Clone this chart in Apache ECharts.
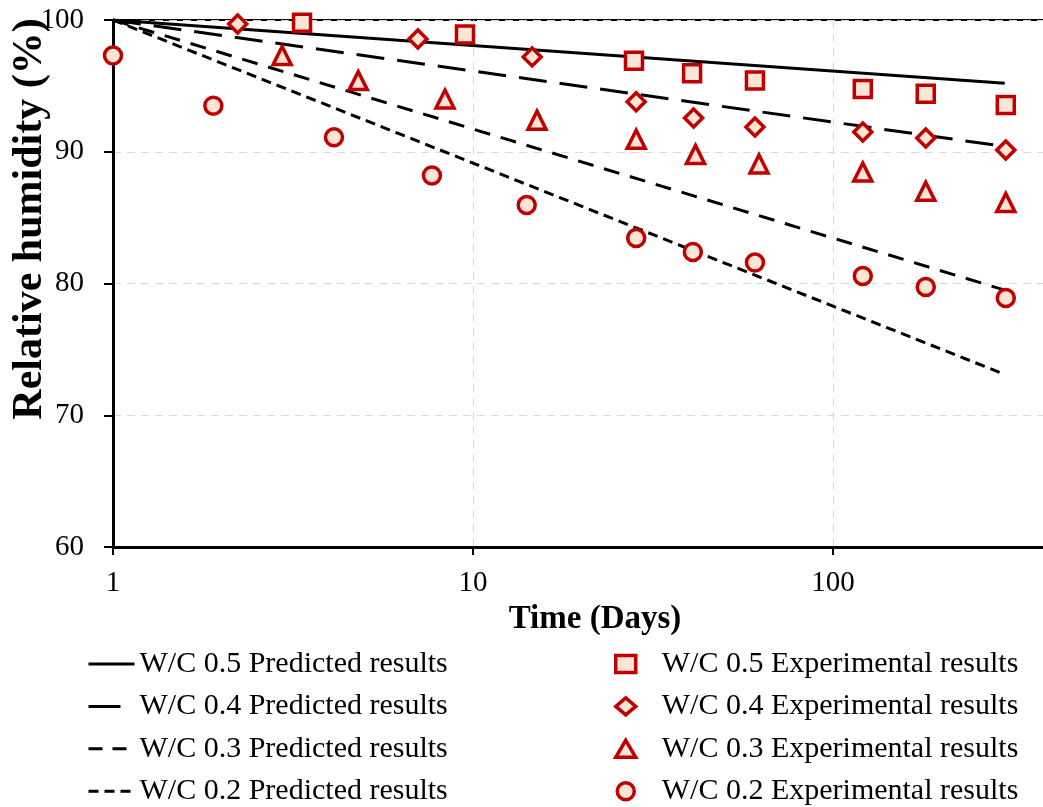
<!DOCTYPE html>
<html>
<head>
<meta charset="utf-8">
<script src="https://cdn.jsdelivr.net/npm/echarts@6/dist/echarts.min.js"></script>
<style>
  html, body { margin: 0; padding: 0; background: #fff; }
  #chart { width: 1043px; height: 807px; }
</style>
</head>
<body>
<div id="chart"></div>
<script>
// predicted lines (straight on log axis), from day 1 to day 300
const predDays = [1, 300];
const pred05 = [100, 95.2];
const pred04 = [100, 90.4];
const pred03 = [100, 79.5];
const pred02 = [100, 73.1];

// experimental points
const exp05Days = [3.35, 9.5, 28, 40.6, 60.7, 121, 181, 302];
const exp05 = [99.8, 98.9, 96.9, 95.95, 95.4, 94.76, 94.4, 93.55];

const exp04Days = [2.22, 7.03, 14.6, 28.4, 41, 60.7, 121, 181, 302];
const exp04 = [99.7, 98.56, 97.2, 93.8, 92.56, 91.88, 91.5, 91.04, 90.13];

const exp03Days = [2.95, 4.8, 8.36, 15.06, 28.4, 41.5, 62.3, 121, 181, 302];
const exp03 = [97.3, 95.4, 94.0, 92.4, 90.95, 89.8, 89.07, 88.46, 87.0, 86.15];

const exp02Days = [1, 1.9, 4.11, 7.69, 14.1, 28.4, 40.8, 60.7, 121, 181, 302];
const exp02 = [97.3, 93.5, 91.1, 88.2, 85.96, 83.45, 82.4, 81.6, 80.57, 79.73, 78.9];

const yTicks = [60, 70, 80, 90, 100];

const FONT = "Liberation Serif";
const RED = "#C00000";
const PEACH = "#FBE5D6";

function pairs(xs, ys) {
  return xs.map((x, i) => [x, ys[i]]);
}

function predLine(name, ys, dash) {
  return {
    name: name,
    type: "line",
    data: pairs(predDays, ys),
    symbol: "none",
    silent: true,
    lineStyle: { color: "#000", width: 3, type: dash },
    itemStyle: { color: "#000" },
    z: 2,
  };
}

function expPoints(name, xs, ys, symbol, size) {
  return {
    name: name,
    type: "scatter",
    data: pairs(xs, ys),
    symbol: symbol,
    symbolSize: size,
    silent: true,
    itemStyle: { color: PEACH, borderColor: RED, borderWidth: 3.5, opacity: 1 },
    z: 3,
  };
}

const lineNames = [
  "W/C 0.5 Predicted results",
  "W/C 0.4 Predicted results",
  "W/C 0.3 Predicted results",
  "W/C 0.2 Predicted results",
];
const expNames = [
  "W/C 0.5 Experimental results",
  "W/C 0.4 Experimental results",
  "W/C 0.3 Experimental results",
  "W/C 0.2 Experimental results",
];

const chart = echarts.init(document.getElementById("chart"), null, { renderer: "canvas" });

chart.setOption({
  animation: false,
  backgroundColor: "#fff",
  textStyle: { fontFamily: FONT, color: "#000" },
  grid: {
    left: 113,
    top: 20,
    width: 1080,
    height: 527,
    show: true,
    borderColor: "#000",
    borderWidth: 2,
    containLabel: false,
    outerBoundsMode: "none",
  },
  xAxis: {
    type: "log",
    logBase: 10,
    min: 1,
    max: 1000,
    axisLine: { lineStyle: { color: "#000", width: 3 } },
    axisTick: { show: true, length: 8, lineStyle: { color: "#000", width: 2 } },
    minorTick: { show: false },
    axisLabel: { fontFamily: FONT, fontSize: 29, color: "#000", margin: 22 },
    splitLine: { show: true, lineStyle: { color: "#d9d9d9", width: 1, type: [8, 6] } },
  },
  yAxis: {
    type: "value",
    min: yTicks[0],
    max: yTicks[yTicks.length - 1],
    interval: 10,
    axisLine: { show: true, lineStyle: { color: "#000", width: 3 } },
    axisTick: { show: true, length: 9, lineStyle: { color: "#000", width: 2 } },
    axisLabel: { fontFamily: FONT, fontSize: 29, color: "#000", margin: 29 },
    splitLine: { show: true, lineStyle: { color: "#d9d9d9", width: 1, type: [8, 6] } },
  },
  graphic: [
    {
      type: "text",
      x: 30,
      y: 219,
      rotation: Math.PI / 2,
      style: {
        text: "Relative humidity (%)",
        fontFamily: FONT,
        fontWeight: "bold",
        fontSize: 42,
        fill: "#000",
        align: "center",
        verticalAlign: "middle",
      },
    },
    {
      type: "text",
      x: 595,
      y: 619,
      style: {
        text: "Time (Days)",
        fontFamily: FONT,
        fontWeight: "bold",
        fontSize: 33,
        fill: "#000",
        align: "center",
        verticalAlign: "middle",
      },
    },
  ],
  legend: [
    {
      data: [
        { name: lineNames[0] },
        { name: lineNames[1], lineStyle: { type: [32, 40] } },
        { name: lineNames[2], lineStyle: { type: [14, 10] } },
        { name: lineNames[3], lineStyle: { type: [10, 6] } },
      ],
      orient: "vertical",
      left: 87,
      top: 649,
      padding: 0,
      itemWidth: 46,
      itemHeight: 20,
      itemGap: 12.4,
      selectedMode: false,
      itemStyle: { color: "rgba(0,0,0,0)", borderWidth: 0, opacity: 0 },
      lineStyle: { width: 3, color: "#000" },
      textStyle: { fontFamily: FONT, fontSize: 30, color: "#000" },
    },
    {
      data: expNames,
      orient: "vertical",
      left: 614,
      top: 649,
      padding: 0,
      itemWidth: 20,
      itemHeight: 17,
      itemGap: 12.4,
      selectedMode: false,
      itemStyle: { color: PEACH, borderColor: RED, borderWidth: 3.5 },
      textStyle: { fontFamily: FONT, fontSize: 30, color: "#000", padding: [0, 0, 0, 21] },
    },
  ],
  series: [
    predLine(lineNames[0], pred05, "solid"),
    predLine(lineNames[1], pred04, [28, 13]),
    predLine(lineNames[2], pred03, [16, 11]),
    predLine(lineNames[3], pred02, [10, 6]),
    expPoints(expNames[0], exp05Days, exp05, "rect", 17),
    expPoints(expNames[1], exp04Days, exp04, "diamond", 18),
    expPoints(expNames[2], exp03Days, exp03, "triangle", 18),
    expPoints(expNames[3], exp02Days, exp02, "circle", 17),
  ],
});
</script>
</body>
</html>
